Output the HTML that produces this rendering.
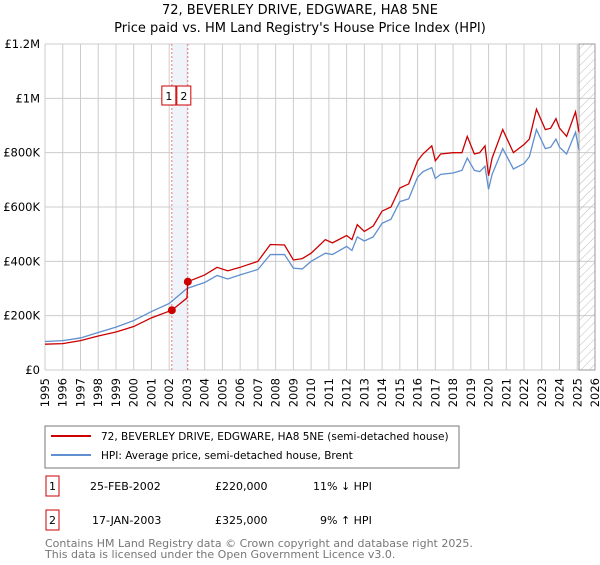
<!DOCTYPE html>
<html><head><meta charset="utf-8"><style>
body{margin:0;background:#fff;font-family:"Liberation Sans","DejaVu Sans",sans-serif;}
svg text{font-family:"DejaVu Sans","Liberation Sans",sans-serif;}
</style></head><body>
<svg id="c" width="600" height="560" xmlns="http://www.w3.org/2000/svg">
<text x="300" y="14" text-anchor="middle" font-size="13" fill="#000">72, BEVERLEY DRIVE, EDGWARE, HA8 5NE</text>
<text x="300" y="32" text-anchor="middle" font-size="13" fill="#000">Price paid vs. HM Land Registry's House Price Index (HPI)</text>
<g id="grid"></g><g id="marks"></g><g id="axes"></g>
<rect x="45" y="426" width="414" height="42" fill="#fff" stroke="#777"/>
<line x1="51" y1="436" x2="91" y2="436" stroke="#cc0000" stroke-width="2"/>
<text x="101" y="440" font-size="10.5">72, BEVERLEY DRIVE, EDGWARE, HA8 5NE (semi-detached house)</text>
<line x1="51" y1="455" x2="91" y2="455" stroke="#5f8fcf" stroke-width="2"/>
<text x="101" y="459" font-size="10.5">HPI: Average price, semi-detached house, Brent</text>
<g font-size="11">
<rect x="46" y="476" width="13" height="20" fill="#fff" stroke="#cc0000"/>
<text x="52.5" y="490" text-anchor="middle">1</text>
<text x="90" y="490">25-FEB-2002</text>
<text x="215" y="490">£220,000</text>
<text x="313" y="490">11% ↓ HPI</text>
<rect x="46" y="510" width="13" height="20" fill="#fff" stroke="#cc0000"/>
<text x="52.5" y="524" text-anchor="middle">2</text>
<text x="92" y="524">17-JAN-2003</text>
<text x="215" y="524">£325,000</text>
<text x="320" y="524">9% ↑ HPI</text>
</g>
<text x="45" y="547" font-size="11" fill="#777">Contains HM Land Registry data © Crown copyright and database right 2025.</text>
<text x="45" y="558" font-size="11" fill="#777">This data is licensed under the Open Government Licence v3.0.</text>
</svg>
<script>
const yTicks=[0,200000,400000,600000,800000,1000000,1200000];
const yTickLabels=["£0","£200K","£400K","£600K","£800K","£1M","£1.2M"];
const hpiDates=[1995,1996,1997,1998,1999,2000,2001,2002,2003,2004,2004.7,2005.3,2006,2007,2007.7,2008.5,2009,2009.5,2010,2010.8,2011.2,2012,2012.3,2012.6,2013,2013.5,2014,2014.5,2015,2015.5,2016,2016.3,2016.8,2017,2017.3,2018,2018.5,2018.8,2019.2,2019.5,2019.8,2020,2020.2,2020.8,2021.4,2022,2022.3,2022.7,2023.2,2023.5,2023.8,2024,2024.4,2024.9,2025.1];
const hpiValues=[105,108,118,138,158,182,215,245,300,322,348,335,350,370,425,425,375,372,400,430,425,455,440,490,475,490,540,555,620,630,710,730,745,705,720,725,735,780,735,730,750,665,720,815,740,760,785,885,815,820,850,820,795,875,810];
const priceDates=[1995,1996,1997,1998,1999,2000,2001,2002.15,2003.0,2003.05,2004,2004.7,2005.3,2006,2007,2007.7,2008.5,2009,2009.5,2010,2010.8,2011.2,2012,2012.3,2012.6,2013,2013.5,2014,2014.5,2015,2015.5,2016,2016.3,2016.8,2017,2017.3,2018,2018.5,2018.8,2019.2,2019.5,2019.8,2020,2020.2,2020.8,2021.4,2022,2022.3,2022.7,2023.2,2023.5,2023.8,2024,2024.4,2024.9,2025.1];
const priceValues=[95,97,108,125,140,160,192,220,265,325,350,378,365,378,400,462,460,405,410,430,480,468,495,480,535,510,530,585,600,670,685,770,795,825,770,795,800,800,860,795,800,825,715,780,885,800,830,850,960,885,890,925,890,860,950,875];
const saleDates=[2002.15,2003.05];
const saleValues=[220000,325000];
const saleLabels=["1","2"];
const NS="http://www.w3.org/2000/svg";
const X0=45,X1=595,Y0=370,Y1=44;
const xs=y=>X0+(y-1995)/(2026-1995)*(X1-X0);
const ys=v=>Y0-v/1200000*(Y0-Y1);
function mk(p,t,a){const e=document.createElementNS(NS,t);for(const k in a)e.setAttribute(k,a[k]);p.appendChild(e);return e;}
const grid=document.getElementById('grid'),marks=document.getElementById('marks'),axes=document.getElementById('axes');
for(let yr=1995;yr<=2026;yr++){const l=mk(grid,'line',{x1:xs(yr),x2:xs(yr),y1:Y1,y2:Y0,stroke:'#ccc'});


const t=mk(axes,'text',{transform:`translate(${xs(yr)+4},378) rotate(-90)`,'text-anchor':'end','font-size':'11.5'});t.textContent=yr;

}
yTicks.forEach((v,i)=>{const l=mk(grid,'line',{x1:X0,x2:X1,y1:ys(v),y2:ys(v),stroke:'#ccc'});


const t=mk(axes,'text',{x:X0-5,y:ys(v)+4,'text-anchor':'end','font-size':'11.5'});t.textContent=yTickLabels[i];

});
const band=mk(grid,'rect',{x:xs(saleDates[0]),y:Y1,width:xs(saleDates[1])-xs(saleDates[0]),height:Y0-Y1,fill:'#e8effa',opacity:0.7});


const defs=mk(document.getElementById('c'),'defs',{});
const pat=mk(defs,'pattern',{id:'hatch',width:6,height:6,patternUnits:'userSpaceOnUse',patternTransform:'rotate(45)'});
mk(pat,'line',{x1:0,y1:0,x2:0,y2:6,stroke:'#bbb','stroke-width':1});
const hr=mk(grid,'rect',{x:xs(2025.1),y:Y1,width:X1-xs(2025.1),height:Y0-Y1,fill:'url(#hatch)',stroke:'#999'});


saleDates.forEach((d,i)=>{const l=mk(marks,'line',{x1:xs(d),x2:xs(d),y1:Y1,y2:Y0,stroke:'#e55','stroke-dasharray':'2,2','stroke-width':0.8});


const bx=i?xs(d)-11:xs(d)-10;
const r=mk(marks,'rect',{x:bx,y:86,width:14,height:19,fill:'#fff',stroke:'#cc0000'});


const t=mk(marks,'text',{x:bx+7,y:100,'text-anchor':'middle','font-size':'11'});t.textContent=saleLabels[i];});
const hp=mk(marks,'polyline',{points:hpiDates.map((d,i)=>xs(d)+','+ys(hpiValues[i]*1000)).join(' '),fill:'none',stroke:'#5f8fcf','stroke-width':1.3});


const pp=mk(marks,'polyline',{points:priceDates.map((d,i)=>xs(d)+','+ys(priceValues[i]*1000)).join(' '),fill:'none',stroke:'#cc0000','stroke-width':1.3});


saleDates.forEach((d,i)=>{const c=mk(marks,'circle',{cx:xs(d),cy:ys(saleValues[i]),r:4,fill:'#cc0000'});

});
</script>
</body></html>
